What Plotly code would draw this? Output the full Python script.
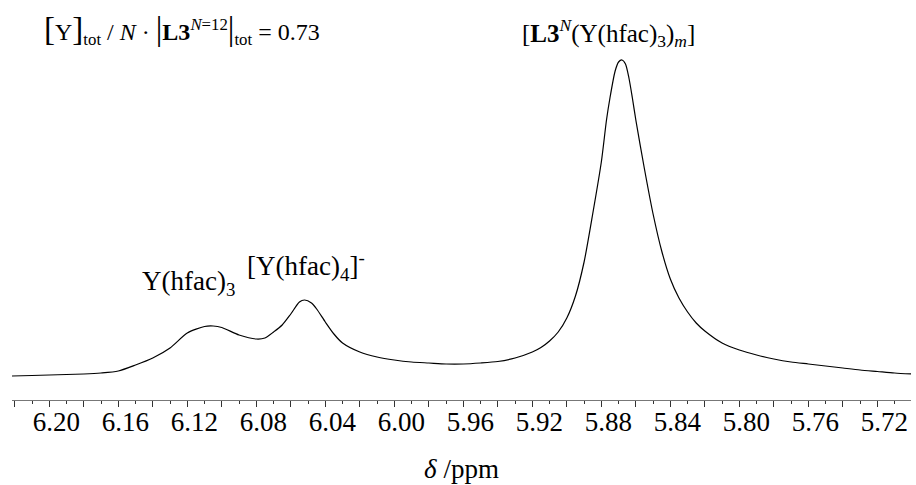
import plotly.graph_objects as go

# Chemical shift (ppm) and signal intensity (arb. units)
ppm = [6.222, 6.21, 6.20, 6.19, 6.18, 6.17, 6.16, 6.15, 6.14, 6.13, 6.12, 6.11, 6.105, 6.10,
       6.09, 6.08, 6.075, 6.07, 6.065, 6.06, 6.055, 6.052, 6.048, 6.045, 6.04, 6.035, 6.03,
       6.02, 6.01, 6.00, 5.99, 5.98, 5.97, 5.96, 5.95, 5.94, 5.93, 5.92, 5.915, 5.91, 5.905,
       5.90, 5.895, 5.89, 5.885, 5.88, 5.877, 5.875, 5.872, 5.87, 5.868, 5.866, 5.864, 5.862,
       5.86, 5.855, 5.85, 5.845, 5.84, 5.835, 5.83, 5.825, 5.82, 5.81, 5.80, 5.79, 5.78, 5.77,
       5.76, 5.75, 5.74, 5.73, 5.72, 5.71, 5.70]
intensity = [24, 24.5, 25, 25.5, 26, 27, 29, 35, 42, 52, 67, 73.5, 74, 72.5,
             65, 61, 62, 68, 75, 86, 98, 100, 97, 91, 78, 66, 57,
             48, 43, 40, 38, 37, 36, 36, 37, 38.5, 42, 48, 52.5, 59, 68,
             82, 104, 138, 186, 238, 280, 302, 329, 338, 340, 336, 322, 302,
             280, 231, 186, 149, 121, 102, 88, 77, 69, 57, 50, 45, 41, 38,
             36, 34, 32, 30, 28.5, 27, 26]

# Axis ticks
label_tick_ppm = [6.20, 6.16, 6.12, 6.08, 6.04, 6.00, 5.96, 5.92, 5.88, 5.84, 5.80, 5.76, 5.72]
tick_labels = ["6.20", "6.16", "6.12", "6.08", "6.04", "6.00", "5.96", "5.92", "5.88",
               "5.84", "5.80", "5.76", "5.72"]
mid_tick_ppm = [6.22, 6.18, 6.14, 6.10, 6.06, 6.02, 5.98, 5.94, 5.90, 5.86, 5.82, 5.78, 5.74]

FONT = "Liberation Serif, Times New Roman, serif"
FS = 27
X_RANGE = [6.2216, 5.7005]

big = '<span style="font-size:33px">{}</span>'
formula = (big.format("[") + "Y" + big.format("]") + "<sub>tot</sub> / <i>N</i> · "
           + big.format("|") + "<b>L3</b><sup><i>N</i>=12</sup>" + big.format("|")
           + "<sub>tot</sub> = 0.73")

fig = go.Figure()
fig.add_trace(go.Scatter(x=ppm, y=intensity, mode="lines",
                         line=dict(color="black", width=1.2, shape="spline", smoothing=0.7),
                         hoverinfo="skip", showlegend=False))
# helper (empty) trace so the overlay axis carrying the 0.02-ppm ticks is drawn
fig.add_trace(go.Scatter(x=[], y=[], xaxis="x2", mode="lines", showlegend=False,
                         hoverinfo="skip"))

fig.update_layout(
    width=916, height=485,
    margin=dict(l=12, r=5, t=50, b=85),
    paper_bgcolor="white", plot_bgcolor="white",
    font=dict(family=FONT, size=FS, color="black"),
    xaxis=dict(
        range=X_RANGE, showgrid=False, zeroline=False,
        showline=True, linecolor="#777", linewidth=1.2,
        tickmode="array", tickvals=label_tick_ppm, ticktext=tick_labels,
        ticks="outside", ticklen=6, tickwidth=1.2, tickcolor="#333",
        ticklabelshift=-7, ticklabelstandoff=-9,
        minor=dict(dtick=0.01, ticks="outside", ticklen=3, tickwidth=1.2, tickcolor="#333"),
        tickfont=dict(family=FONT, size=FS),
        title=dict(text="<i>δ</i> /ppm", font=dict(family=FONT, size=FS), standoff=23),
    ),
    xaxis2=dict(
        range=X_RANGE, overlaying="x", side="bottom", anchor="y",
        showgrid=False, zeroline=False, showline=False, showticklabels=False,
        tickmode="array", tickvals=mid_tick_ppm,
        ticks="outside", ticklen=6, tickwidth=1.2, tickcolor="#333",
    ),
    yaxis=dict(range=[0, 350], visible=False),
    annotations=[
        dict(x=0.0334, y=1.0571, xref="paper", yref="paper", xanchor="left", yanchor="middle",
             text=formula,
             showarrow=False, font=dict(family=FONT, size=24)),
        dict(x=0.664, y=1.0486, xref="paper", yref="paper", xanchor="center", yanchor="middle",
             text="[<b>L3</b><sup><i>N</i></sup>(Y(hfac)<sub>3</sub>)<sub><i>m</i></sub>]",
             showarrow=False, font=dict(family=FONT, size=25)),
        dict(x=6.1474, y=117, xref="x", yref="y", xanchor="left", yanchor="middle",
             text="Y(hfac)<sub>3</sub>",
             showarrow=False, font=dict(family=FONT, size=FS)),
        dict(x=6.0866, y=134, xref="x", yref="y", xanchor="left", yanchor="middle",
             text="[Y(hfac)<sub>4</sub>]<sup>-</sup>",
             showarrow=False, font=dict(family=FONT, size=FS)),
    ],
)

fig.write_html("out.html")
